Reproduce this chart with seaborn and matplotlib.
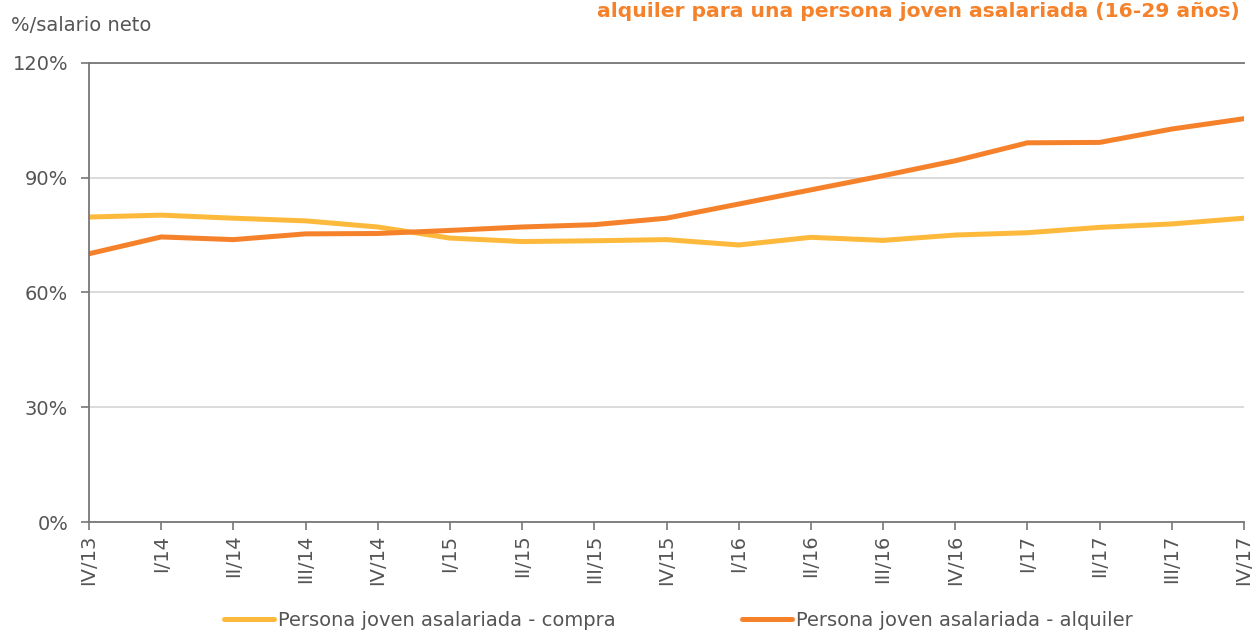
import matplotlib
matplotlib.use("Agg")
import matplotlib.pyplot as plt
import seaborn as sns
import pandas as pd
from matplotlib.ticker import FuncFormatter

quarters = ["IV/13", "I/14", "II/14", "III/14", "IV/14", "I/15", "II/15", "III/15",
            "IV/15", "I/16", "II/16", "III/16", "IV/16", "I/17", "II/17", "III/17", "IV/17"]
compra = [79.7, 80.2, 79.4, 78.7, 77.1, 74.2, 73.3, 73.5, 73.8, 72.4, 74.4, 73.6,
          75.0, 75.6, 77.0, 77.9, 79.4]
alquiler = [70.1, 74.5, 73.8, 75.3, 75.4, 76.2, 77.1, 77.7, 79.4, 83.1, 86.8, 90.5,
            94.4, 99.1, 99.2, 102.7, 105.4]
series_names = ["Persona joven asalariada - compra", "Persona joven asalariada - alquiler"]
colors = ["#FDB93B", "#F5822B"]
title_text = "alquiler para una persona joven asalariada (16-29 años)"
ylabel_text = "%/salario neto"

sns.set_theme(style="white")
plt.rcParams['font.family'] = ['DejaVu Sans']

df = pd.DataFrame({
    "x": list(range(len(quarters))) * 2,
    "valor": compra + alquiler,
    "serie": [series_names[0]] * len(quarters) + [series_names[1]] * len(quarters),
})

fig = plt.figure(figsize=(12.52, 6.32), dpi=100)
ax = fig.add_axes([0.0711, 0.174, 0.9225, 0.7266])

sns.lineplot(data=df, x="x", y="valor", hue="serie", palette=colors, linewidth=3.6,
             ax=ax, legend=False, solid_capstyle="round")

ax.set_xlim(0, len(quarters) - 1)
ax.set_ylim(0, 120)
ax.set_yticks([0, 30, 60, 90, 120])
ax.yaxis.set_major_formatter(FuncFormatter(lambda v, p: f"{int(v)}%"))
ax.set_xticks(range(len(quarters)))
ax.set_xticklabels(quarters, rotation=90)
ax.set_xlabel("")
ax.set_ylabel("")

text_color = "#555555"
axis_color = "#777777"
ax.grid(axis="y", color="#d4d4d4", linewidth=1.2)
ax.set_axisbelow(True)
for s in ["left", "bottom", "top"]:
    ax.spines[s].set_visible(True)
    ax.spines[s].set_color(axis_color)
    ax.spines[s].set_linewidth(1.3)
ax.spines["right"].set_visible(False)
ax.tick_params(axis="both", colors=axis_color, labelcolor=text_color, labelsize=14,
               length=6, width=1.2, direction="out", left=True, bottom=True)
ax.tick_params(axis="x", pad=3)
ax.tick_params(axis="y", pad=9)

fig.text(0.009, 0.96, ylabel_text, fontsize=14, color=text_color, va="center", ha="left")
fig.text(0.4768, 1 - 17 / 632, title_text, fontsize=14.6, fontweight="bold",
         color="#F5822B", va="baseline", ha="left")

handles = [plt.Line2D([0], [0], color=c, linewidth=3.6, solid_capstyle="round") for c in colors]
leg = fig.legend(handles, series_names, loc="center", bbox_to_anchor=(0.5415, 0.018),
                 ncol=2, frameon=False, fontsize=14, handlelength=2.58, handletextpad=0.2,
                 columnspacing=6.5, labelcolor=text_color)

fig.savefig("out.png", dpi=100)
